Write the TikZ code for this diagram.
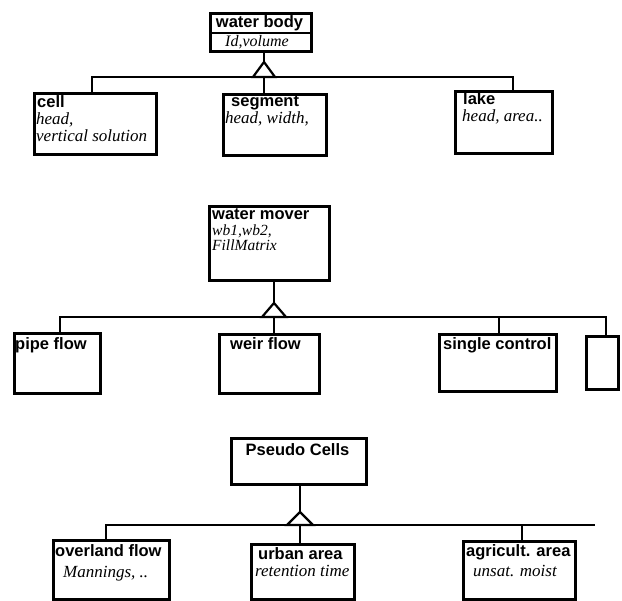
\documentclass[tikz,border=0pt]{standalone}
\usepackage{fontspec}
\setmainfont{Liberation Serif}
\newfontfamily\hv{Liberation Sans}
\begin{document}
\begin{tikzpicture}[x=1pt,y=-1pt,
  box/.style={draw, line width=2.6pt, inner sep=0pt, anchor=north west},
  conn/.style={line width=2.2pt},
  tri/.style={draw, fill=white, line width=2.2pt, line join=miter},
  lbl/.style={font=\hv\bfseries\fontsize{16.5}{18}\selectfont, anchor=base west, inner sep=0pt},
  att/.style={font=\itshape\fontsize{17}{18}\selectfont, anchor=base west, inner sep=0pt}]
\useasboundingbox[fill=white] (0,0) rectangle (622,601);

% ---------- section 1 ----------
\node[box, minimum width=101pt, minimum height=38pt] (wb) at (209,12) {};
\draw[line width=2pt] (209,33) -- (310,33);
\node[lbl, anchor=base] (wbt) at (259.5,28) {water body};
\node[att, anchor=base, font=\itshape\fontsize{16}{18}\selectfont] (wba) at (257,47) {Id,volume};

\node[box, minimum width=122pt, minimum height=61pt] (cell) at (33,92) {};
\node[lbl] (cellt) at (37,108) {cell};
\node[att] (cella) at (36,125) {head,};
\node[att] (cellb) at (36,142) {vertical solution};

\node[box, minimum width=103pt, minimum height=61pt] (seg) at (222,93) {};
\node[lbl] (segt) at (231,107) {segment};
\node[att] (sega) at (225,124) {head, width,};

\node[box, minimum width=97pt, minimum height=62pt] (lake) at (454,90) {};
\node[lbl] (laket) at (463,105) {lake};
\node[att] (lakea) at (462,122) {head, area..};

\coordinate (a1) at (264,62);
\coordinate (b1R) at (513,77);
\draw[conn] (wb.south -| a1) -- (a1);
\draw[conn] (cell.north -| 92,0) |- (b1R) -- (b1R |- lake.north);
\draw[conn] (a1 |- b1R) -- (a1 |- seg.north);
\draw[tri] (a1) -- ++(-11,15) -- ++(22,0) -- cycle;

% ---------- section 2 ----------
\node[box, minimum width=120pt, minimum height=74pt] (wm) at (208,205) {};
\node[lbl] (wmt) at (212,220) {water mover};
\node[att, font=\itshape\fontsize{15.5}{18}\selectfont] (wma) at (212,236) {wb1,wb2,};
\node[att, font=\itshape\fontsize{15.5}{18}\selectfont] (wmb) at (212,251) {FillMatrix};

\node[box, minimum width=86pt, minimum height=60pt] (pipe) at (13,332) {};
\node[lbl] (pipet) at (15,350) {pipe flow};

\node[box, minimum width=100pt, minimum height=59pt] (weir) at (218,333) {};
\node[lbl] (weirt) at (230,350) {weir flow};

\node[box, minimum width=117pt, minimum height=57pt] (single) at (438,333) {};
\node[lbl] (singlet) at (443,350) {single control};

\node[box, minimum width=32pt, minimum height=53pt] (small) at (585,335) {};

\coordinate (a2) at (274,303);
\coordinate (b2L) at (60,317);
\coordinate (b2R) at (606,317);
\draw[conn] (wm.south -| a2) -- (a2);
\draw[conn] (b2L |- pipe.north) -- (b2L) -- (b2R) -- (b2R |- small.north);
\draw[conn] (a2 |- b2L) -- (a2 |- weir.north);
\draw[conn] (499,317) -- (single.north -| 499,0);
\draw[tri] (a2) -- ++(-12,14) -- ++(24,0) -- cycle;

% ---------- section 3 ----------
\node[box, minimum width=135pt, minimum height=46pt] (pc) at (230,437) {};
\node[lbl, anchor=base] (pct) at (297.5,456) {Pseudo Cells};

\node[box, minimum width=116pt, minimum height=59pt] (over) at (52,539) {};
\node[lbl] (overt) at (55,557) {overland flow};
\node[att] (overa) at (63,578) {Mannings, ..};

\node[box, minimum width=103pt, minimum height=55pt] (urban) at (250,543) {};
\node[lbl] (urbant) at (258,560) {urban area};
\node[att] (urbana) at (255,577) {retention time};

\node[box, minimum width=112pt, minimum height=58pt] (agri) at (462,540) {};
\node[lbl] (agrit) at (466,557) {agricult. area};
\node[att] (agria) at (473,577) {unsat. moist};

\coordinate (a3) at (300,512);
\coordinate (b3L) at (106,525);
\coordinate (b3R) at (595,525);
\draw[conn] (pc.south -| a3) -- (a3);
\draw[conn] (b3L |- over.north) -- (b3L) -- (b3R);
\draw[conn] (a3 |- b3L) -- (a3 |- urban.north);
\draw[conn] (522,525) -- (agri.north -| 522,0);
\draw[tri] (a3) -- ++(-13,13) -- ++(26,0) -- cycle;
\end{tikzpicture}
\end{document}
